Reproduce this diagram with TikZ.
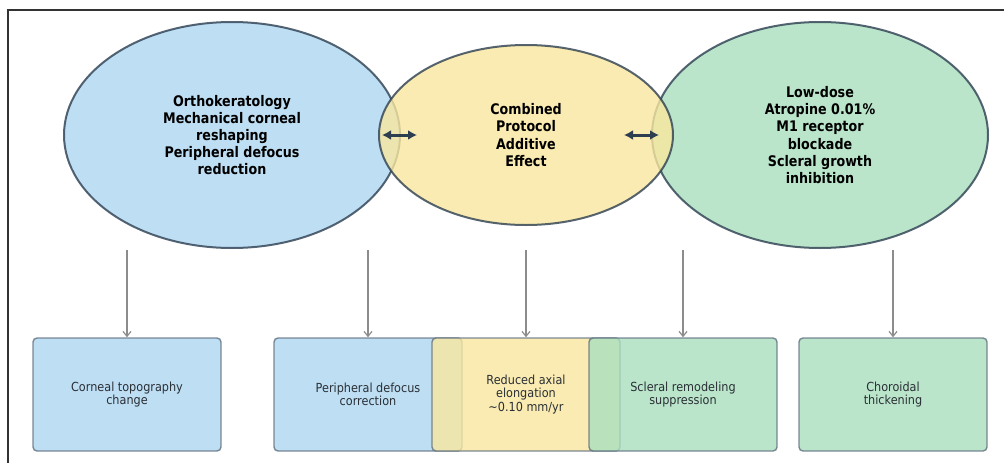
\documentclass[tikz,border=0pt]{standalone}
\usepackage{fontspec}
\setmainfont{DejaVu Sans}
\newfontfamily\ellfont[FakeStretch=0.87]{DejaVu Sans}
\newfontfamily\boxfont[FakeStretch=0.9]{DejaVu Sans}
\usetikzlibrary{shapes.geometric,arrows.meta}
\definecolor{cblue}{HTML}{AED6F1}
\definecolor{cyellow}{HTML}{F9E79F}
\definecolor{cgreen}{HTML}{A9DFBF}
\definecolor{cedge}{HTML}{2C3E50}
\definecolor{bedge}{HTML}{5D6D7E}
\definecolor{btext}{HTML}{2A2F35}
\definecolor{varrowc}{HTML}{8C8C8C}
\tikzset{
  ell/.style={ellipse, draw=cedge, line width=2pt, fill opacity=0.8, draw opacity=0.8, text opacity=1,
    inner sep=0pt, minimum width=336pt, minimum height=226pt, align=center,
    font=\ellfont\bfseries\fontsize{14.6}{17.2}\selectfont},
  effbox/.style={rectangle, rounded corners=4pt, draw=bedge, line width=1.4pt, fill opacity=0.8,
    draw opacity=0.8, text opacity=1, inner sep=0pt, minimum width=188pt, minimum height=113pt,
    align=center, text=btext, font=\boxfont\fontsize{12.5}{13.6}\selectfont},
  dblarrow/.style={{Latex[length=9pt,width=10pt]}-{Latex[length=9pt,width=10pt]}, draw=cedge, line width=3pt},
  downarrow/.style={-{Straight Barb[length=5pt,width=8pt]}, draw=varrowc, line width=1.2pt},
  frameline/.style={draw=black!80, line width=1.2pt}
}
\begin{document}
\begin{tikzpicture}[x=1pt,y=-1pt]
\useasboundingbox (0,0) rectangle (1004,463);
\fill[white] (0,0) rectangle (1004,463);
\coordinate (fa) at (8,463);
\coordinate (fb) at (8,10);
\coordinate (fc) at (1004,10);
\draw[frameline] (fa) -- (fb) -- (fc);

% ellipses
\node[ell, fill=cblue] (ortho) at (232,135) {Orthokeratology\\Mechanical corneal\\reshaping\\Peripheral defocus\\reduction};
\node[ell, fill=cgreen] (atro) at (820,135) {Low-dose\\Atropine 0.01\%\\M1 receptor\\blockade\\Scleral growth\\inhibition};
\node[ell, fill=cyellow, minimum width=294pt, minimum height=180pt] (comb) at (526,135) {Combined\\Protocol\\Additive\\Effect};

\coordinate (l1) at (382,135);
\coordinate (l2) at (417,135);
\coordinate (r1) at (624,135);
\coordinate (r2) at (659,135);
\draw[dblarrow] (l1) -- (l2);
\draw[dblarrow] (r1) -- (r2);

% boxes
\node[effbox, fill=cblue] (b1) at (127,394.5) {Corneal topography\\change};
\node[effbox, fill=cblue] (b2) at (368,394.5) {Peripheral defocus\\correction};
\node[effbox, fill=cyellow] (b3) at (526,394.5) {Reduced axial\\elongation\\\textasciitilde 0.10 mm/yr};
\node[effbox, fill=cgreen] (b4) at (683,394.5) {Scleral remodeling\\suppression};
\node[effbox, fill=cgreen] (b5) at (893,394.5) {Choroidal\\thickening};

\coordinate (s1) at (127,250);
\coordinate (s2) at (368,250);
\coordinate (s3) at (526,250);
\coordinate (s4) at (683,250);
\coordinate (s5) at (893,250);
\draw[downarrow] (s1) -- (b1.north);
\draw[downarrow] (s2) -- (b2.north);
\draw[downarrow] (s3) -- (b3.north);
\draw[downarrow] (s4) -- (b4.north);
\draw[downarrow] (s5) -- (b5.north);
\end{tikzpicture}
\end{document}
